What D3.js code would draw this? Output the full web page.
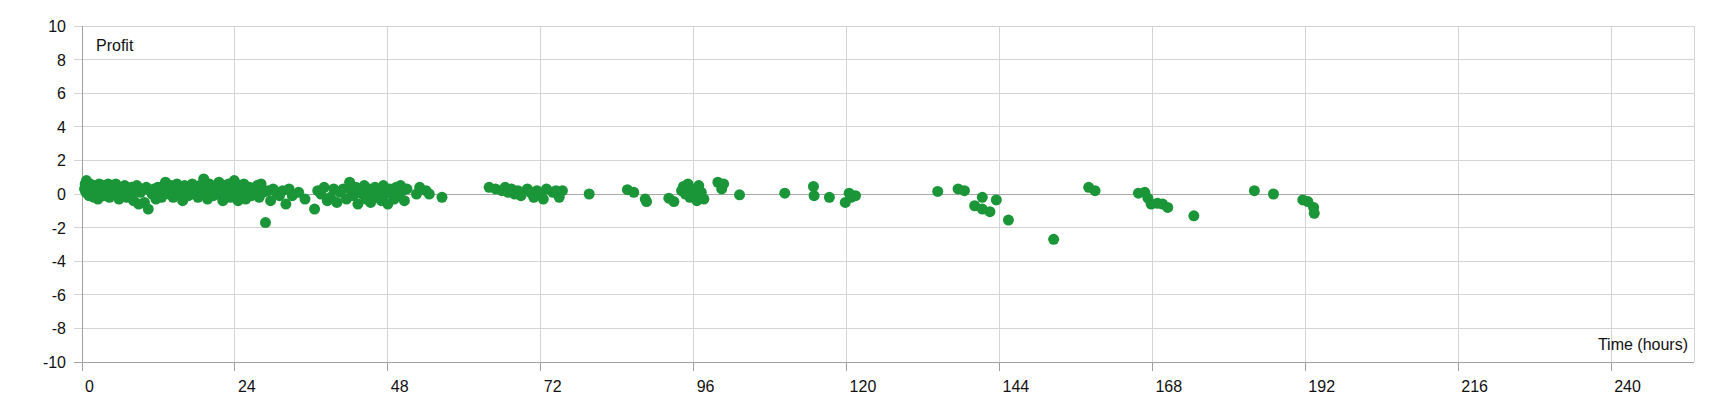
<!DOCTYPE html>
<html><head><meta charset="utf-8">
<script src="https://cdn.jsdelivr.net/npm/d3@7"></script>
<style>body{margin:0;background:#fff}text{font-family:"Liberation Sans",Arial,sans-serif}</style>
</head><body><svg id="c" width="1720" height="400"></svg>
<script>
const hours = [0.4,0.5,0.6,0.7,0.8,0.9,1.0,1.1,1.2,1.3,1.5,1.7,1.9,2.1,2.3,2.5,2.7,3.0,3.2,3.4,3.6,3.9,4.1,4.3,4.6,4.8,5.0,5.3,5.6,5.8,6.1,6.4,6.7,7.0,7.2,7.5,7.8,8.1,8.4,8.6,8.9,9.2,9.5,9.8,10.1,10.4,10.7,11.0,11.3,11.6,11.9,12.2,12.5,12.8,13.1,13.4,13.7,14.0,14.3,14.6,14.9,15.2,15.5,15.8,16.1,16.4,16.7,17.0,17.3,17.6,17.9,18.2,18.5,18.8,19.1,19.4,19.7,20.0,20.3,20.6,20.9,21.2,21.5,21.8,22.1,22.4,22.7,23.0,23.3,23.6,23.9,24.2,24.5,24.8,25.1,25.4,25.7,26.0,26.3,26.6,26.9,27.2,27.5,27.8,28.1,28.4,28.8,29.2,29.6,30.0,30.5,31.0,31.5,32.0,32.5,33.0,34.0,35.0,36.5,37.0,37.5,38.0,38.5,39.0,39.5,40.0,40.5,41.0,41.5,42.0,42.3,42.6,43.0,43.3,43.6,44.0,44.3,44.6,45.0,45.3,45.6,46.0,46.3,46.6,47.0,47.3,47.6,48.0,48.3,48.6,49.0,49.3,49.6,50.0,50.3,50.6,51.0,52.5,53.0,54.0,54.5,56.5,
63.9,64.9,65.9,66.4,66.9,67.4,67.9,68.4,68.9,69.9,70.4,70.9,71.4,71.9,72.4,72.9,73.9,74.4,74.9,75.4,79.6,
85.6,86.6,88.4,88.6,92.1,92.9,94.1,94.4,94.7,95.1,95.4,95.7,96.2,96.5,96.8,97.2,97.6,99.8,100.4,100.7,103.2,
110.3,114.8,114.9,117.3,119.8,120.4,120.7,121.4,
134.3,137.5,138.5,140.1,141.3,141.3,142.5,143.5,145.4,152.5,
158.0,159.0,165.8,166.8,167.3,167.8,168.8,169.6,170.4,174.5,
184.0,187.0,191.6,192.4,193.3,193.4];
const profit = [0.3,0.6,0.1,0.8,0.4,0.2,0.5,-0.1,0.3,0.6,
0.0,0.4,-0.2,0.5,0.2,-0.3,0.6,0.1,0.4,-0.1,
0.5,0.2,0.6,-0.2,0.3,0.5,0.0,0.6,0.2,-0.3,
0.4,0.1,0.5,-0.2,0.3,0.0,0.4,-0.4,0.2,0.5,
-0.6,0.1,0.3,-0.5,0.4,-0.9,0.2,0.0,0.3,-0.3,
0.4,0.1,-0.2,0.5,0.7,0.3,0.0,0.5,-0.2,0.4,
0.6,0.1,0.3,-0.4,0.5,0.2,-0.1,0.4,0.6,0.0,
0.3,-0.2,0.5,0.1,0.9,0.4,-0.3,0.6,0.2,-0.1,
0.4,0.0,0.7,0.3,-0.4,0.5,0.1,0.6,-0.2,0.3,
0.8,0.2,-0.4,0.5,0.0,0.6,-0.3,0.2,0.4,-0.1,
0.3,0.0,0.5,-0.2,0.6,0.1,-1.7,0.2,-0.4,0.3,
0.1,-0.1,0.2,-0.6,0.3,-0.1,0.1,-0.3,-0.9,0.2,
0.0,0.4,-0.4,-0.2,0.3,-0.5,0.1,0.3,-0.3,0.7,
0.2,-0.1,0.4,-0.6,0.2,0.0,0.5,-0.3,0.3,-0.5,
0.1,0.4,-0.2,0.2,-0.4,0.5,0.0,-0.6,0.3,0.1,
-0.3,0.4,-0.1,0.5,0.2,-0.4,0.3,0.0,0.4,0.2,
0.0,-0.2,
0.4,0.3,0.2,0.4,0.1,0.3,0.0,0.2,-0.1,0.3,0.1,-0.2,0.2,0.0,-0.3,0.3,0.1,0.2,-0.2,0.2,0.0,
0.26,0.1,-0.3,-0.45,-0.25,-0.45,0.2,0.45,0.0,0.6,-0.2,0.3,0.0,-0.4,0.5,0.1,-0.3,0.7,0.3,0.6,-0.05,
0.05,0.45,-0.1,-0.2,-0.5,0.05,-0.2,-0.1,
0.15,0.3,0.2,-0.7,-0.2,-0.9,-1.05,-0.35,-1.55,-2.7,
0.4,0.2,0.05,0.1,-0.25,-0.6,-0.55,-0.6,-0.8,-1.3,
0.2,0.0,-0.35,-0.45,-0.8,-1.15];
const xTicks = [0,24,48,72,96,120,144,168,192,216,240];
const yTicks = [-10,-8,-6,-4,-2,0,2,4,6,8,10];

const svg = d3.select("#c");
const L=82,R=1694,T=26,B=362;
const x = d3.scaleLinear().domain([0,253]).range([L,R]);
const y = d3.scaleLinear().domain([-10,10]).range([B,T]);
const g = svg.append("g");
yTicks.forEach(v=>{
  g.append("line").attr("x1",L-8).attr("x2",R).attr("y1",y(v)).attr("y2",y(v))
   .attr("stroke", v===-10?"#a0a0a0":"#d4d4d4").attr("stroke-width",1).attr("shape-rendering","crispEdges");
  g.append("text").attr("x",L-16).attr("y",y(v)+6).attr("text-anchor","end").attr("font-size",16).attr("fill","#111").text(v);
});
xTicks.forEach(v=>{
  g.append("line").attr("x1",x(v)).attr("x2",x(v)).attr("y1",T).attr("y2",B+9)
   .attr("stroke", v===0?"#a0a0a0":"#d4d4d4").attr("shape-rendering","crispEdges");
  g.append("line").attr("x1",x(v)).attr("x2",x(v)).attr("y1",B).attr("y2",B+9).attr("stroke","#a0a0a0").attr("shape-rendering","crispEdges");
  g.append("text").attr("x",x(v)+3).attr("y",B+30).attr("font-size",16).attr("fill","#111").text(v);
});
g.append("line").attr("x1",R).attr("x2",R).attr("y1",T).attr("y2",B).attr("stroke","#d4d4d4").attr("shape-rendering","crispEdges");
g.append("line").attr("x1",L).attr("x2",R).attr("y1",y(0)).attr("y2",y(0)).attr("stroke","#a8a8a8").attr("shape-rendering","crispEdges");
g.append("text").attr("x",96).attr("y",51).attr("font-size",16).attr("fill","#111").text("Profit");
g.append("text").attr("x",R-6).attr("y",B-12).attr("text-anchor","end").attr("font-size",16).attr("fill","#111").text("Time (hours)");
svg.append("g").selectAll("circle").data(hours.map((h,i)=>[h,profit[i]])).join("circle")
  .attr("cx",d=>x(d[0])).attr("cy",d=>y(d[1])).attr("r",5.5).attr("fill","#1a9639");
</script></body></html>
